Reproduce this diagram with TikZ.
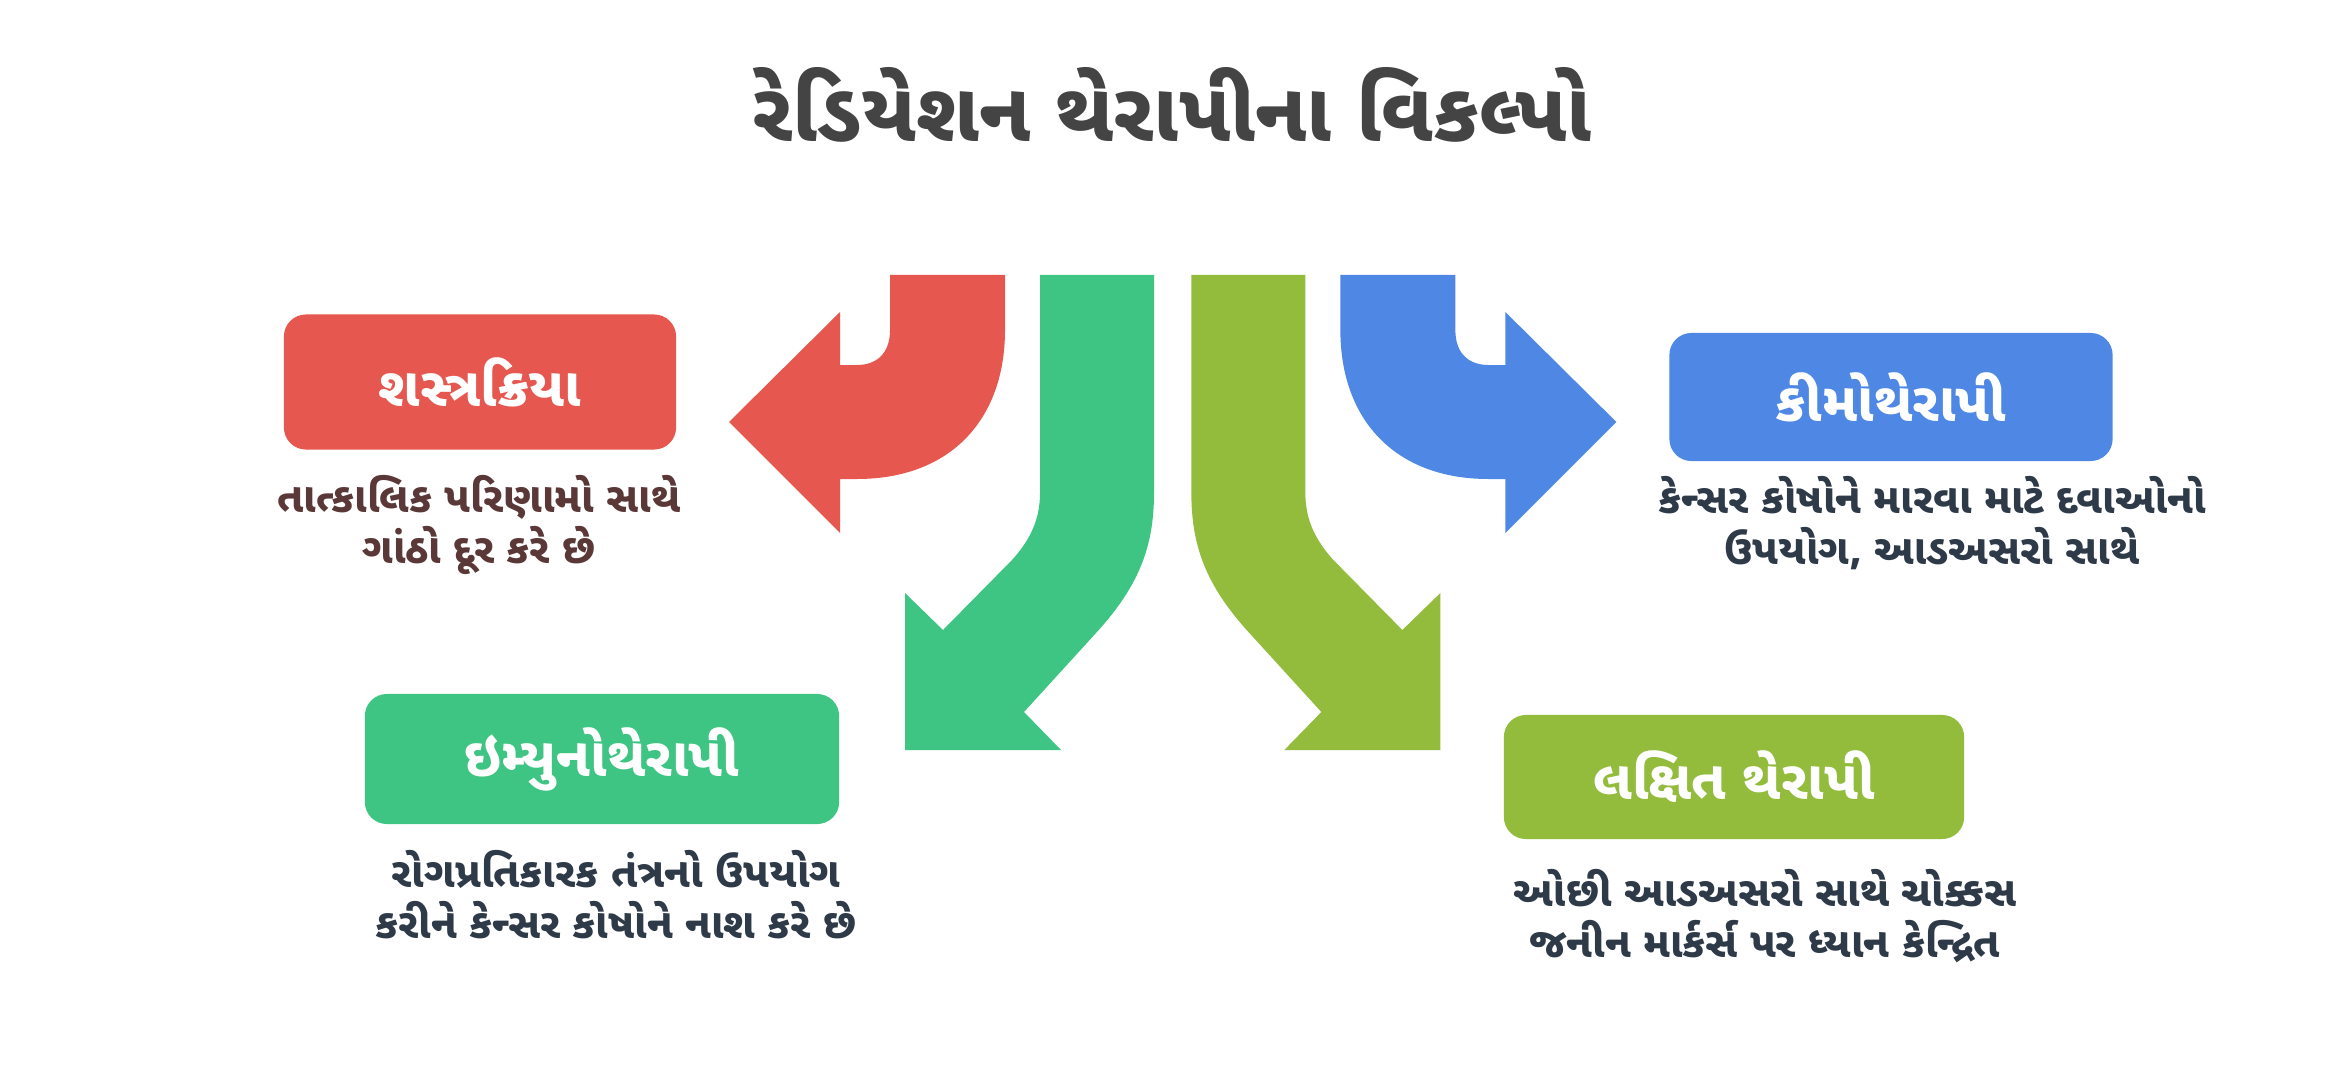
\documentclass[tikz,border=0pt]{standalone}
\usepackage{fontspec}
\newfontfamily\guj[Script=Gujarati]{Noto Sans Gujarati UI}
\definecolor{surgred}{HTML}{E5574F}
\definecolor{immgreen}{HTML}{3EC483}
\definecolor{targolive}{HTML}{93BB3C}
\definecolor{chemblue}{HTML}{4E88E4}
\definecolor{titlegray}{HTML}{444444}
\definecolor{descbrown}{HTML}{5A3838}
\definecolor{descslate}{HTML}{2E3A48}
\newcommand\bendpath{(890,275) -- (890,330) .. controls (890,355) and (875,365) .. (857,365) -- (840,365) -- (840,312) -- (729,422) -- (840,533) -- (840,479) -- (857,479) .. controls (950,479) and (1005,420) .. (1005,330) -- (1005,275) -- cycle}
\newcommand\droppath{(1040,275) -- (1040,493) .. controls (1040,520) and (1030,540) .. (1012,560) -- (943,630) -- (905,593) -- (905,750) -- (1061,750) -- (1024,712) -- (1096,633) .. controls (1140,585) and (1154,545) .. (1154,493) -- (1154,275) -- cycle}
\begin{document}
\begin{tikzpicture}[x=0.01cm,y=-0.01cm,
    box/.style={rounded corners=0.22cm,minimum height=#1,inner sep=0pt,text=white,font=\guj\bfseries\fontsize{15.5}{18}\selectfont},
    desc/.style={align=center,font=\guj\bfseries\fontsize{11.8}{14.5}\selectfont}]
  \useasboundingbox (0,0) rectangle (2345,1085);
  \node[font=\guj\bfseries\fontsize{23.5}{28}\selectfont,text=titlegray] (title) at (1172,105) {રેડિયેશન થેરાપીના વિકલ્પો};
  % arrows
  \fill[surgred] \bendpath;
  \fill[immgreen] \droppath;
  \begin{scope}[xshift=23.44cm,x=-0.01cm]
    \fill[chemblue] \bendpath;
    \fill[targolive] \droppath;
  \end{scope}
  % boxes
  \node[box=1.35cm,fill=surgred,minimum width=3.92cm] (surgery) at (480,382) {શસ્ત્રક્રિયા};
  \node[box=1.28cm,fill=chemblue,minimum width=4.43cm] (chemo) at (1891,397) {કીમોથેરાપી};
  \node[box=1.30cm,fill=immgreen,minimum width=4.74cm] (immuno) at (602,759) {ઇમ્યુનોથેરાપી};
  \node[box=1.24cm,fill=targolive,minimum width=4.60cm] (target) at (1734,777) {લક્ષિત થેરાપી};
  % descriptions
  \node[desc,text=descbrown] (surgerytxt) at (479,525) {તાત્કાલિક પરિણામો સાથે\\ગાંઠો દૂર કરે છે};
  \node[desc,text=descslate] (chemotxt) at (1932,523) {કેન્સર કોષોને મારવા માટે દવાઓનો\\ઉપયોગ, આડઅસરો સાથે};
  \node[desc,text=descslate] (immunotxt) at (616,895) {રોગપ્રતિકારક તંત્રનો ઉપયોગ\\કરીને કેન્સર કોષોને નાશ કરે છે};
  \node[desc,text=descslate] (targettxt) at (1765,916) {ઓછી આડઅસરો સાથે ચોક્કસ\\જનીન માર્કર્સ પર ધ્યાન કેન્દ્રિત};
\end{tikzpicture}
\end{document}
